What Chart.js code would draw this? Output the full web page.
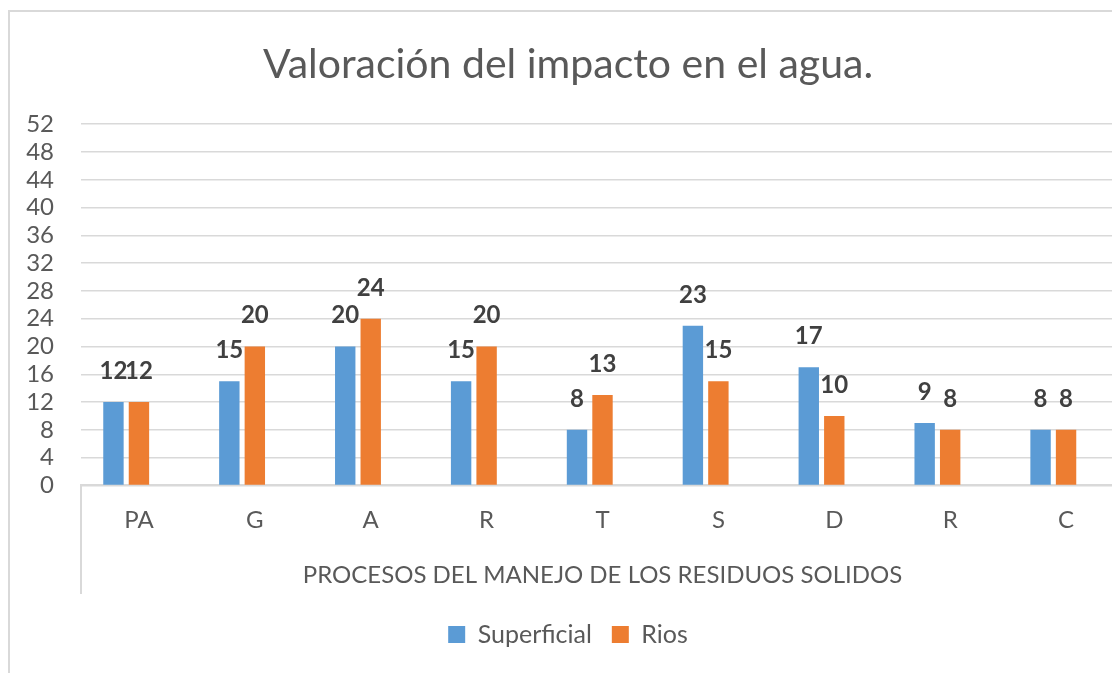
<!DOCTYPE html>
<html><head><meta charset="utf-8">
<script src="https://cdn.jsdelivr.net/npm/chart.js@4"></script>
<style>
html,body{margin:0;padding:0;background:#fff;overflow:hidden;width:1112px;height:673px;}
#frame{position:absolute;left:8px;top:10px;width:1140px;height:700px;border:2px solid #d9d9d9;box-sizing:border-box;pointer-events:none;}
canvas{position:absolute;left:0;top:0;}
</style></head><body>
<canvas id="c" width="1130" height="673"></canvas>
<div id="frame"></div>
<script>
const categories = ['PA', 'G', 'A', 'R', 'T', 'S', 'D', 'R', 'C'];
const superficial = [12, 15, 20, 15, 8, 23, 17, 9, 8];
const rios = [12, 20, 24, 20, 13, 15, 10, 8, 8];
// empty third series slot (as in the original clustered layout)
const emptySeries = [null, null, null, null, null, null, null, null, null];
const yMin = 0, yMax = 52, yStep = 4;

const valueLabels = {
  id: 'valueLabels',
  afterDatasetsDraw(chart) {
    const ctx = chart.ctx;
    ctx.save();
    ctx.font = 'bold 24px Lato';
    ctx.fillStyle = '#404040';
    ctx.textAlign = 'center';
    ctx.textBaseline = 'alphabetic';
    [0, 1].forEach(di => {
      const meta = chart.getDatasetMeta(di);
      meta.data.forEach((el, i) => {
        const v = chart.data.datasets[di].data[i];
        ctx.fillText(String(v), el.x, el.y - 23);
      });
    });
    ctx.restore();
  }
};

const categoryBox = {
  id: 'categoryBox',
  afterDraw(chart) {
    const xs = chart.scales.x;
    const ctx = chart.ctx;
    ctx.save();
    ctx.strokeStyle = '#d9d9d9';
    ctx.lineWidth = 2;
    ctx.beginPath();
    ctx.moveTo(xs.left, xs.top);
    ctx.lineTo(xs.left, xs.bottom - 8);
    ctx.moveTo(xs.right, xs.top);
    ctx.lineTo(xs.right, xs.bottom - 8);
    ctx.stroke();
    ctx.restore();
  }
};

function build() {
  new Chart(document.getElementById('c'), {
    type: 'bar',
    data: {
      labels: categories,
      datasets: [
        { label: 'Superficial', data: superficial, backgroundColor: '#5B9BD5' },
        { label: 'Rios', data: rios, backgroundColor: '#ED7D31' },
        { label: '', data: emptySeries, backgroundColor: 'rgba(0,0,0,0)' }
      ]
    },
    options: {
      responsive: false,
      animation: false,
      layout: { padding: { top: 40, left: 12, right: 6, bottom: 16 } },
      datasets: { bar: { categoryPercentage: 0.66, barPercentage: 0.8 } },
      plugins: {
        title: {
          display: true, text: 'Valoración del impacto en el agua.', color: '#595959',
          font: { family: 'Lato', size: 41, weight: 'normal' }, padding: { top: 0, bottom: 35 }
        },
        legend: {
          position: 'bottom',
          labels: {
            filter: item => item.text !== '',
            color: '#595959', font: { family: 'Lato', size: 25 },
            boxWidth: 17, boxHeight: 17, padding: 20
          }
        },
        tooltip: { enabled: false }
      },
      scales: {
        x: {
          grid: { display: false, drawTicks: false },
          border: { display: true, color: '#d9d9d9', width: 2 },
          ticks: { color: '#595959', font: { family: 'Lato', size: 24 }, padding: 20 },
          title: {
            display: true, text: 'PROCESOS DEL MANEJO DE LOS RESIDUOS SOLIDOS', color: '#595959',
            font: { family: 'Lato', size: 24 }, padding: { top: 7, bottom: 12 }
          }
        },
        y: {
          min: yMin, max: yMax,
          ticks: { stepSize: yStep, autoSkip: false, color: '#595959', font: { family: 'Lato', size: 24 }, padding: 27 },
          grid: { color: '#d9d9d9', lineWidth: 1.5, drawTicks: false },
          border: { display: false },
          afterFit(s) { s.width = 69; }
        }
      }
    },
    plugins: [valueLabels, categoryBox]
  });
}
if (document.fonts && document.fonts.load) {
  Promise.all([document.fonts.load('24px Lato'), document.fonts.load('bold 24px Lato')]).then(build, build);
} else { build(); }
</script>
</body></html>
